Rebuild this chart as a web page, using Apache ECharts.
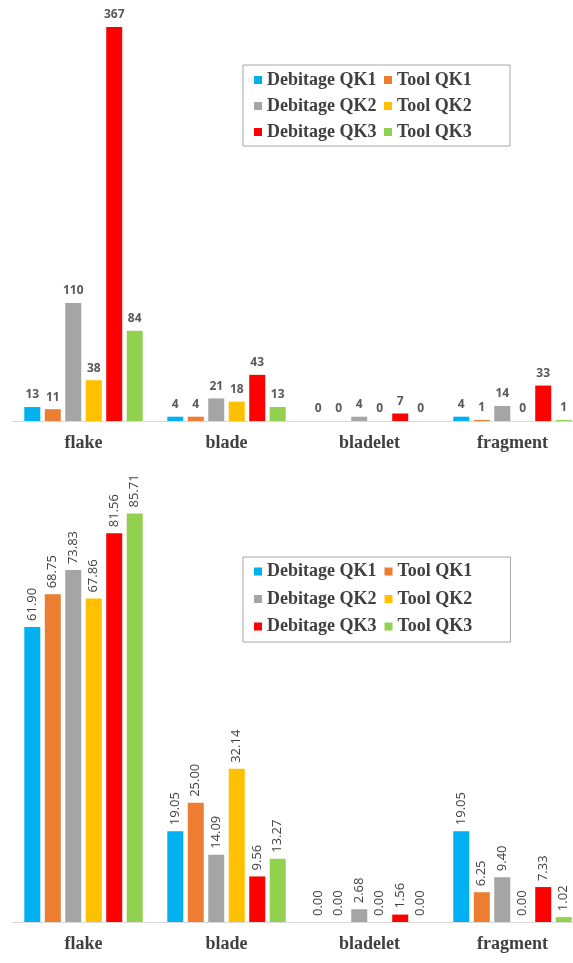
<!DOCTYPE html>
<html><head><meta charset="utf-8">
<script src="https://cdn.jsdelivr.net/npm/echarts@6/dist/echarts.min.js"></script>
<style>html,body{margin:0;padding:0;background:#fff}#c{width:573px;height:963px}</style>
</head><body><div id="c"></div>
<script>
const categories = ['flake', 'blade', 'bladelet', 'fragment'];
const seriesNames = ['Debitage QK1', 'Tool QK1', 'Debitage QK2', 'Tool QK2', 'Debitage QK3', 'Tool QK3'];
const colors = ['#00b0f0', '#ed7d31', '#a5a5a5', '#ffc000', '#ff0000', '#92d050'];
// counts (top chart)
const countDebQK1 = [13, 4, 0, 4];
const countToolQK1 = [11, 4, 0, 1];
const countDebQK2 = [110, 21, 4, 14];
const countToolQK2 = [38, 18, 0, 0];
const countDebQK3 = [367, 43, 7, 33];
const countToolQK3 = [84, 13, 0, 1];
// percentages (bottom chart)
const pctDebQK1 = [61.90, 19.05, 0.00, 19.05];
const pctToolQK1 = [68.75, 25.00, 0.00, 6.25];
const pctDebQK2 = [73.83, 14.09, 2.68, 9.40];
const pctToolQK2 = [67.86, 32.14, 0.00, 0.00];
const pctDebQK3 = [81.56, 9.56, 1.56, 7.33];
const pctToolQK3 = [85.71, 13.27, 0.00, 1.02];

const countSets = [countDebQK1, countToolQK1, countDebQK2, countToolQK2, countDebQK3, countToolQK3];
const pctSets = [pctDebQK1, pctToolQK1, pctDebQK2, pctToolQK2, pctDebQK3, pctToolQK3];

const chart = echarts.init(document.getElementById('c'));
const catFont = {fontFamily: '"Liberation Serif", serif', fontWeight: 'bold', fontSize: 18, color: '#404040'};

function xAx(gi) {
  return {type: 'category', gridIndex: gi, data: categories,
    axisLine: {show: true, lineStyle: {color: '#d9d9d9', width: 1}},
    axisTick: {show: false},
    axisLabel: Object.assign({margin: 13}, catFont)};
}
function yAx(gi) {
  return {type: 'value', gridIndex: gi, show: false, min: 0, max: function (v) { return v.max; },
    splitLine: {show: false}};
}
function legend(top, lh, gap, pad) {
  return {top: top, left: 243, width: 300, orient: 'horizontal',
    data: seriesNames, itemWidth: 8, itemHeight: 8, itemGap: gap,
    icon: 'rect', borderColor: '#a6a6a6', borderWidth: 1, padding: pad,
    textStyle: {fontFamily: '"Liberation Serif", serif', fontWeight: 'bold', fontSize: 18, lineHeight: lh, color: '#404040', width: 113},
    itemStyle: {borderWidth: 0}, selectedMode: false};
}

const series = [];
seriesNames.forEach(function (n, i) {
  series.push({name: n, type: 'bar', xAxisIndex: 0, yAxisIndex: 0, data: countSets[i],
    barWidth: 16, barGap: '28%', itemStyle: {color: colors[i]},
    label: {show: true, position: 'top', distance: 6, fontFamily: '"Open Sans", sans-serif', fontWeight: 'bold', fontSize: 12, color: '#595959'}});
});
seriesNames.forEach(function (n, i) {
  series.push({name: n, type: 'bar', xAxisIndex: 1, yAxisIndex: 1, data: pctSets[i],
    barWidth: 16, barGap: '28%', itemStyle: {color: colors[i]},
    label: {show: true, position: 'top', rotate: 90, align: 'left', verticalAlign: 'middle', distance: 6,
      formatter: function (p) { return p.value.toFixed(2); },
      fontFamily: '"Open Sans", sans-serif', fontSize: 13, color: '#404040'}});
});

chart.setOption({
  animation: false,
  color: colors,
  grid: [
    {left: 12, right: -11, top: 27, height: 394, outerBoundsMode: 'none', containLabel: false},
    {left: 12, right: -11, top: 513.5, height: 408.5, outerBoundsMode: 'none', containLabel: false}
  ],
  xAxis: [xAx(0), xAx(1)],
  yAxis: [yAx(0), yAx(1)],
  legend: [legend(65, 22, 4, [4, 0, 3, 11]), legend(557, 23, 4.5, [3, 0, 4, 11])],
  series: series
});
</script></body></html>
